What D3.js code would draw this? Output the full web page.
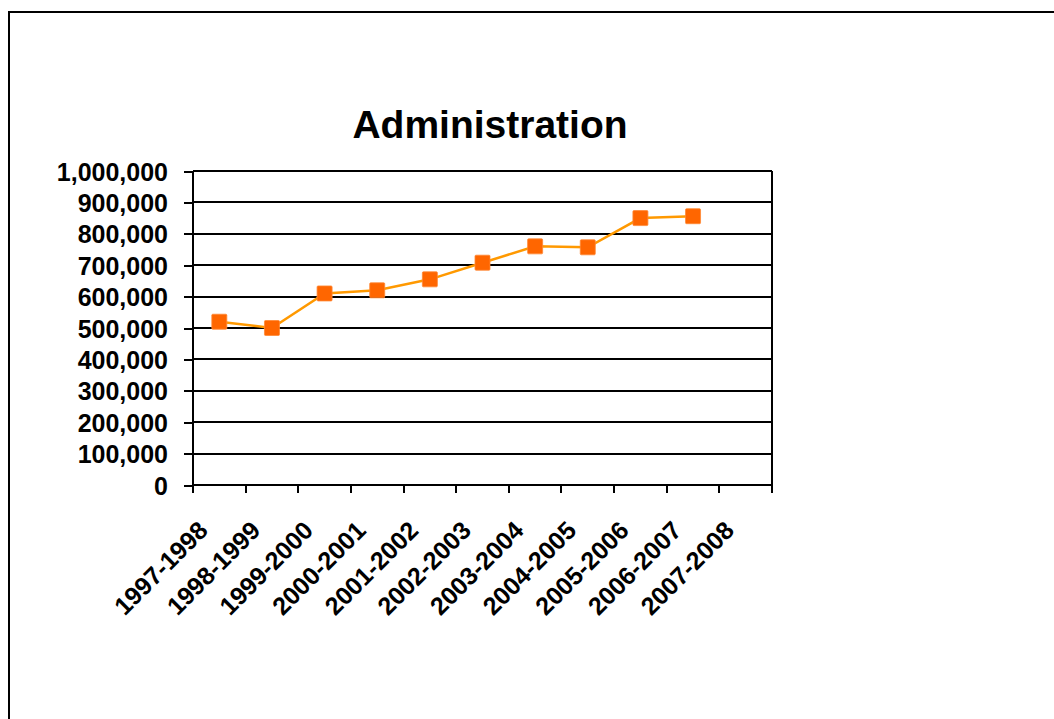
<!DOCTYPE html>
<html>
<head>
<meta charset="utf-8">
<script src="https://cdn.jsdelivr.net/npm/d3@7/dist/d3.min.js"></script>
<style>
  html, body { margin: 0; padding: 0; background: #fff; }
  svg { display: block; font-family: "Liberation Sans", Arial, sans-serif; }
</style>
</head>
<body>
<svg id="chart" width="1054" height="719"></svg>
<script>
const title = "Administration";
const categories = ["1997-1998","1998-1999","1999-2000","2000-2001","2001-2002","2002-2003","2003-2004","2004-2005","2005-2006","2006-2007","2007-2008"];
const values = [520000, 500000, 610000, 620000, 655000, 708000, 760000, 757000, 850000, 856000, null];
const yTicks = [0,100000,200000,300000,400000,500000,600000,700000,800000,900000,1000000];

const svg = d3.select("#chart");
const plot = {left: 193, right: 772, top: 171, bottom: 485};

// outer border
svg.append("rect").attr("x", 9).attr("y", 12).attr("width", 1200).attr("height", 900)
  .attr("fill", "none").attr("stroke", "#000").attr("stroke-width", 2);

const x = d3.scaleBand().domain(categories).range([plot.left, plot.right]).padding(0);
const y = d3.scaleLinear().domain([0, 1000000]).range([plot.bottom, plot.top]);

// gridlines
svg.append("g").attr("shape-rendering", "crispEdges").selectAll("line").data(yTicks.filter(d => d > 0)).join("line")
  .attr("x1", plot.left).attr("x2", plot.right)
  .attr("y1", d => Math.round(y(d))).attr("y2", d => Math.round(y(d)))
  .attr("stroke", "#000").attr("stroke-width", 2);

// right border of plot area
svg.append("line").attr("shape-rendering", "crispEdges").attr("x1", plot.right).attr("x2", plot.right)
  .attr("y1", plot.top).attr("y2", plot.bottom)
  .attr("stroke", "#000").attr("stroke-width", 2);

// y axis
const fmt = d3.format(",");
const yAxis = svg.append("g").attr("transform", `translate(${plot.left},0)`).attr("shape-rendering", "crispEdges")
  .call(d3.axisLeft(y).tickValues(yTicks).tickFormat(fmt).tickSize(9).tickPadding(16));
yAxis.select(".domain").attr("stroke", "#000").attr("stroke-width", 2).attr("d", `M0,${plot.top}V${plot.bottom}`);
yAxis.selectAll(".tick line").attr("stroke", "#000").attr("stroke-width", 2);
yAxis.selectAll(".tick text").attr("font-size", 25).attr("font-weight", "bold")
  .attr("fill", "#000").attr("font-family", "'Liberation Sans', Arial, sans-serif").attr("dy", "0.36em")
  .attr("shape-rendering", null);

// x axis
const xAxisG = svg.append("g").attr("transform", `translate(0,${plot.bottom})`);
xAxisG.append("line").attr("shape-rendering", "crispEdges").attr("x1", plot.left).attr("x2", plot.right).attr("y1", 0).attr("y2", 0)
  .attr("stroke", "#000").attr("stroke-width", 2);
const boundaries = categories.map(c => x(c)).concat([x(categories[categories.length-1]) + x.bandwidth()]);
xAxisG.selectAll("line.tk").data(boundaries).join("line").attr("class", "tk").attr("shape-rendering", "crispEdges")
  .attr("x1", d => Math.round(d)).attr("x2", d => Math.round(d)).attr("y1", 0).attr("y2", 8)
  .attr("stroke", "#000").attr("stroke-width", 2);
xAxisG.selectAll("text").data(categories).join("text")
  .attr("transform", d => `translate(${x(d) + x.bandwidth()/2 - 10},47) rotate(-45)`)
  .attr("text-anchor", "end")
  .attr("font-size", 25).attr("font-weight", "bold").attr("fill", "#000")
  .text(d => d);

// line
const pts = categories.map((c, i) => ({c, v: values[i]})).filter(d => d.v != null);
const line = d3.line().x(d => x(d.c) + x.bandwidth()/2).y(d => y(d.v));
svg.append("path").datum(pts).attr("d", line)
  .attr("fill", "none").attr("stroke", "#FF9900").attr("stroke-width", 2.5);

// markers
const ms = 15;
svg.append("g").selectAll("rect").data(pts).join("rect")
  .attr("x", d => x(d.c) + x.bandwidth()/2 - ms/2)
  .attr("y", d => y(d.v) - ms/2)
  .attr("width", ms).attr("height", ms).attr("rx", 1)
  .attr("fill", "#FF6600").attr("stroke", "#FF8833").attr("stroke-width", 0.8);

// title
svg.append("text").attr("x", 490).attr("y", 138).attr("text-anchor", "middle")
  .attr("font-size", 39).attr("font-weight", "bold").attr("fill", "#000")
  .text(title);
</script>
</body>
</html>
